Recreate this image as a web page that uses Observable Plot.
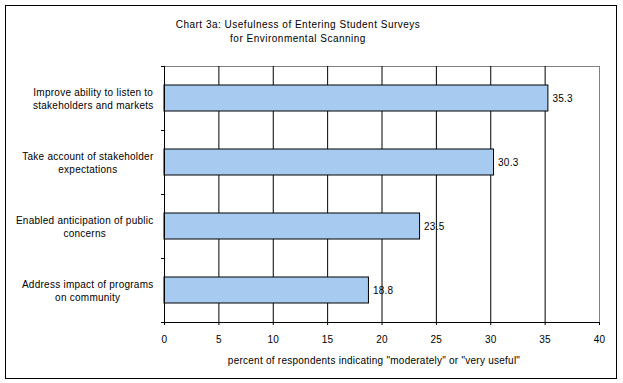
<!DOCTYPE html>
<html>
<head>
<meta charset="utf-8">
<script src="https://cdn.jsdelivr.net/npm/d3@7"></script>
<script src="https://cdn.jsdelivr.net/npm/@observablehq/plot@0.6"></script>
<style>
  html, body { margin: 0; padding: 0; background: #fff; }
  #wrap { position: relative; width: 623px; height: 383px; overflow: hidden; font-family: "Liberation Sans", Arial, sans-serif; }
  #border { position: absolute; left: 5px; top: 5px; width: 612px; height: 374px; box-sizing: border-box; border: 1px solid #000; pointer-events: none; }
  #title { position: absolute; left: 0; top: 18px; width: 596px; text-align: center; font-size: 10px; line-height: 14px; letter-spacing: 0.5px; color: #000; }
  #chart { position: absolute; left: 0; top: 0; }
</style>
</head>
<body>
<div id="wrap">
  <div id="title">Chart 3a: Usefulness of Entering Student Surveys<br>for Environmental Scanning</div>
  <div id="chart"></div>
  <div id="border"></div>
</div>
<script>
const categories = [
  "Improve ability to listen to\nstakeholders and markets",
  "Take account of stakeholder\nexpectations",
  "Enabled anticipation of public\nconcerns",
  "Address impact of programs\non community"
];
const values = [35.3, 30.3, 23.5, 18.8];
const xTicks = [0, 5, 10, 15, 20, 25, 30, 35, 40];
const xLabel = "percent of respondents indicating \"moderately\" or \"very useful\"";

const data = categories.map((c, i) => ({category: c, value: values[i]}));

const W = 623, H = 383, mT = 66, mB = 61, mL = 164, mR = 24;
const step = (H - mT - mB) / categories.length;
const FONT = "10px 'Liberation Sans', Arial, sans-serif";
const LS = 0.25;

const ctx = document.createElement("canvas").getContext("2d");
ctx.font = FONT;
const blockWidth = s => Math.max(...s.split("\n").map(l => ctx.measureText(l).width + l.length * LS));

const labelMarks = categories.map(c =>
  Plot.text([c], {
    x: () => 0, y: d => d, text: d => d,
    textAnchor: "middle", lineAnchor: "middle", lineHeight: 1.25,
    dx: -11 - blockWidth(c) / 2, fill: "#000"
  })
);

const chart = Plot.plot({
  width: W, height: H,
  marginTop: mT, marginBottom: mB, marginLeft: mL, marginRight: mR,
  style: {fontFamily: "'Liberation Sans', Arial, sans-serif", fontSize: "10px", color: "#000", background: "transparent", letterSpacing: LS + "px"},
  x: {domain: [0, 40]},
  y: {domain: categories, paddingInner: 0.6, paddingOuter: 0.3},
  marks: [
    Plot.frame({stroke: "#808080"}),
    Plot.ruleX(xTicks.filter(t => t > 0 && t < 40), {stroke: "#000"}),
    Plot.barX(data, {x: "value", y: "category", fill: "#A6CAF0", stroke: "#000", strokeWidth: 1}),
    Plot.ruleX([0], {stroke: "#000"}),
    Plot.ruleY([categories[categories.length - 1]], {dy: step / 2, stroke: "#000"}),
    Plot.axisX({ticks: xTicks, tickSize: 3, tickPadding: 10, tickFormat: d => String(d), label: null}),
    Plot.axisY({ticks: categories, tickSize: 3, tickFormat: () => "", dy: step / 2, label: null}),
    Plot.axisY({ticks: [categories[0]], tickSize: 3, tickFormat: () => "", dy: -step / 2, label: null}),
    ...labelMarks,
    Plot.text(data, {x: "value", y: "category", text: d => d.value.toFixed(1), textAnchor: "start", dx: 4, fill: "#000"}),
    Plot.text([xLabel], {frameAnchor: "bottom", text: d => d, lineAnchor: "middle", dy: 38, dx: -8, fill: "#000", ariaLabel: "x-label"})
  ]
});
d3.select(chart).selectAll('g[aria-label="x-label"]').style("letter-spacing", "0.55px");
document.getElementById("chart").appendChild(chart);
</script>
</body>
</html>
